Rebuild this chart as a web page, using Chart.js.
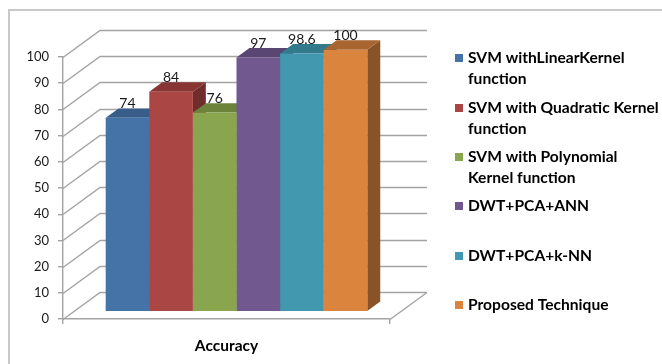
<!DOCTYPE html>
<html>
<head>
<meta charset="utf-8">
<script src="https://cdn.jsdelivr.net/npm/chart.js@4/dist/chart.umd.min.js"></script>
<style>
  html, body { margin: 0; padding: 0; background: #ffffff; }
  #wrap { position: relative; width: 662px; height: 364px; }
  canvas { display: block; }
</style>
</head>
<body>
<div id="wrap"><canvas id="c" width="662" height="364"></canvas></div>
<script>
// ---- chart data ----
const categories = ['Accuracy'];
const methodNames = [
  ['SVM withLinearKernel', 'function'],
  ['SVM with Quadratic Kernel', 'function'],
  ['SVM with Polynomial', 'Kernel function'],
  ['DWT+PCA+ANN'],
  ['DWT+PCA+k-NN'],
  ['Proposed Technique']
];
const accuracyValues = [74, 84, 76, 97, 98.6, 100];
const valueLabels = ['74', '84', '76', '97', '98.6', '100'];
const yTickMin = 0;
const yTickMax = 100;
const yTickStep = 10;

// ---- styling ----
const frontColors = ['#4572A7', '#AA4643', '#89A54E', '#71588F', '#4198AF', '#DB843D'];
const topColors   = ['#385D89', '#873633', '#6C833C', '#5A4672', '#337A8D', '#A9652F'];
const sideColors  = ['#2E4C70', '#712D2B', '#5A6D32', '#4B3A5F', '#2A6574', '#8A5227'];
const FONT = 'Lato, "Open Sans", sans-serif';
const GRID = '#a3a3a3';

// 3D geometry: full depth of the walls, offset of the bars' front face, bar depth
const WALL_DX = 37, WALL_DY = -27;
const BAR_SHIFT = 0.27;   // fraction of wall depth where bar fronts sit
const BAR_DEPTH = 0.35;   // fraction of wall depth taken by bars

const shiftX = WALL_DX * BAR_SHIFT, shiftY = WALL_DY * BAR_SHIFT;
const depX = WALL_DX * BAR_DEPTH, depY = WALL_DY * BAR_DEPTH;

const datasets = accuracyValues.map((v, i) => ({
  label: methodNames[i].join(' '),
  data: [v],
  backgroundColor: frontColors[i],
  borderWidth: 0
}));

function poly(ctx, pts, fill) {
  ctx.beginPath();
  ctx.moveTo(pts[0][0], pts[0][1]);
  for (let k = 1; k < pts.length; k++) ctx.lineTo(pts[k][0], pts[k][1]);
  ctx.closePath();
  ctx.fillStyle = fill;
  ctx.fill();
}

const threeD = {
  id: 'threeD',
  beforeDraw(chart) {
    const ctx = chart.ctx;
    ctx.save();
    // outer chart frame (left and top edges)
    ctx.strokeStyle = '#c9c9c9';
    ctx.lineWidth = 2;
    ctx.beginPath();
    ctx.moveTo(9, 364);
    ctx.lineTo(9, 10);
    ctx.lineTo(662, 10);
    ctx.stroke();
    ctx.restore();
  },
  beforeDatasetsDraw(chart) {
    const ctx = chart.ctx;
    const a = chart.chartArea;
    const ys = chart.scales.y;
    ctx.save();
    // back wall and side wall grid lines
    ctx.strokeStyle = GRID;
    ctx.lineWidth = 1.4;
    ys.ticks.forEach(t => {
      const y = Math.round(ys.getPixelForValue(t.value)) + 0.5;
      ctx.beginPath();
      ctx.moveTo(a.left, y);
      ctx.lineTo(a.left + WALL_DX, y + WALL_DY);
      ctx.lineTo(a.right + WALL_DX, y + WALL_DY);
      ctx.stroke();
    });
    // right edge of the floor
    const yb = Math.round(ys.getPixelForValue(0)) + 0.5;
    ctx.beginPath();
    ctx.moveTo(a.right, yb);
    ctx.lineTo(a.right + WALL_DX, yb + WALL_DY);
    ctx.stroke();

    // side and top faces of every bar, left to right
    ctx.translate(shiftX, shiftY);
    chart.data.datasets.forEach((ds, i) => {
      chart.getDatasetMeta(i).data.forEach(bar => {
        const p = bar.getProps(['x', 'y', 'base', 'width'], true);
        const l = p.x - p.width / 2, r = p.x + p.width / 2;
        poly(ctx, [[r, p.y], [r + depX, p.y + depY], [r + depX, p.base + depY], [r, p.base]], sideColors[i]);
        poly(ctx, [[l, p.y], [l + depX, p.y + depY], [r + depX, p.y + depY], [r, p.y]], topColors[i]);
      });
    });
    ctx.restore();
  },
  beforeDatasetDraw(chart) {
    // front faces sit part-way into the depth of the plot
    chart.ctx.save();
    chart.ctx.translate(shiftX, shiftY);
  },
  afterDatasetDraw(chart) {
    chart.ctx.restore();
  },
  afterDatasetsDraw(chart) {
    const ctx = chart.ctx;
    ctx.save();
    ctx.font = '14px ' + FONT;
    ctx.fillStyle = '#1a1a1a';
    ctx.textAlign = 'center';
    ctx.textBaseline = 'alphabetic';
    chart.data.datasets.forEach((ds, i) => {
      const bar = chart.getDatasetMeta(i).data[0];
      const p = bar.getProps(['x', 'y'], true);
      ctx.fillText(valueLabels[i], p.x + shiftX, p.y + shiftY + depY);
    });

    // legend
    const entryY = [58, 108, 157, 206, 256, 305];
    ctx.textAlign = 'left';
    ctx.textBaseline = 'middle';
    ctx.font = 'bold 15.6px ' + FONT;
    methodNames.forEach((lines, i) => {
      ctx.fillStyle = frontColors[i];
      ctx.fillRect(455, entryY[i] - 4, 8, 8);
      ctx.fillStyle = '#000000';
      lines.forEach((txt, k) => ctx.fillText(txt, 468, entryY[i] + k * 21));
    });
    ctx.restore();
  }
};

new Chart(document.getElementById('c'), {
  type: 'bar',
  data: { labels: categories, datasets },
  options: {
    responsive: false,
    animation: false,
    devicePixelRatio: 1,
    layout: { padding: { left: 0, top: 57, right: 272, bottom: 0 } },
    plugins: { legend: { display: false }, tooltip: { enabled: false } },
    datasets: { bar: { categoryPercentage: 0.8, barPercentage: 1 } },
    scales: {
      x: {
        grid: { offset: true, drawOnChartArea: false, drawTicks: true, tickLength: 5, color: GRID, lineWidth: 1.4 },
        border: { display: true, color: GRID, width: 1.4 },
        ticks: { color: '#000', font: { family: FONT, size: 15.5, weight: 'bold' }, padding: 13 },
        afterFit(s) { s.height = 45; }
      },
      y: {
        min: yTickMin, max: yTickMax,
        ticks: { stepSize: yTickStep, color: '#1a1a1a', font: { family: FONT, size: 13 }, padding: 9 },
        grid: { drawOnChartArea: false, drawTicks: true, tickLength: 5, color: GRID, lineWidth: 1.4 },
        border: { display: true, color: GRID, width: 1.4 },
        afterFit(s) { s.width = 63; }
      }
    }
  },
  plugins: [threeD]
});
</script>
</body>
</html>
